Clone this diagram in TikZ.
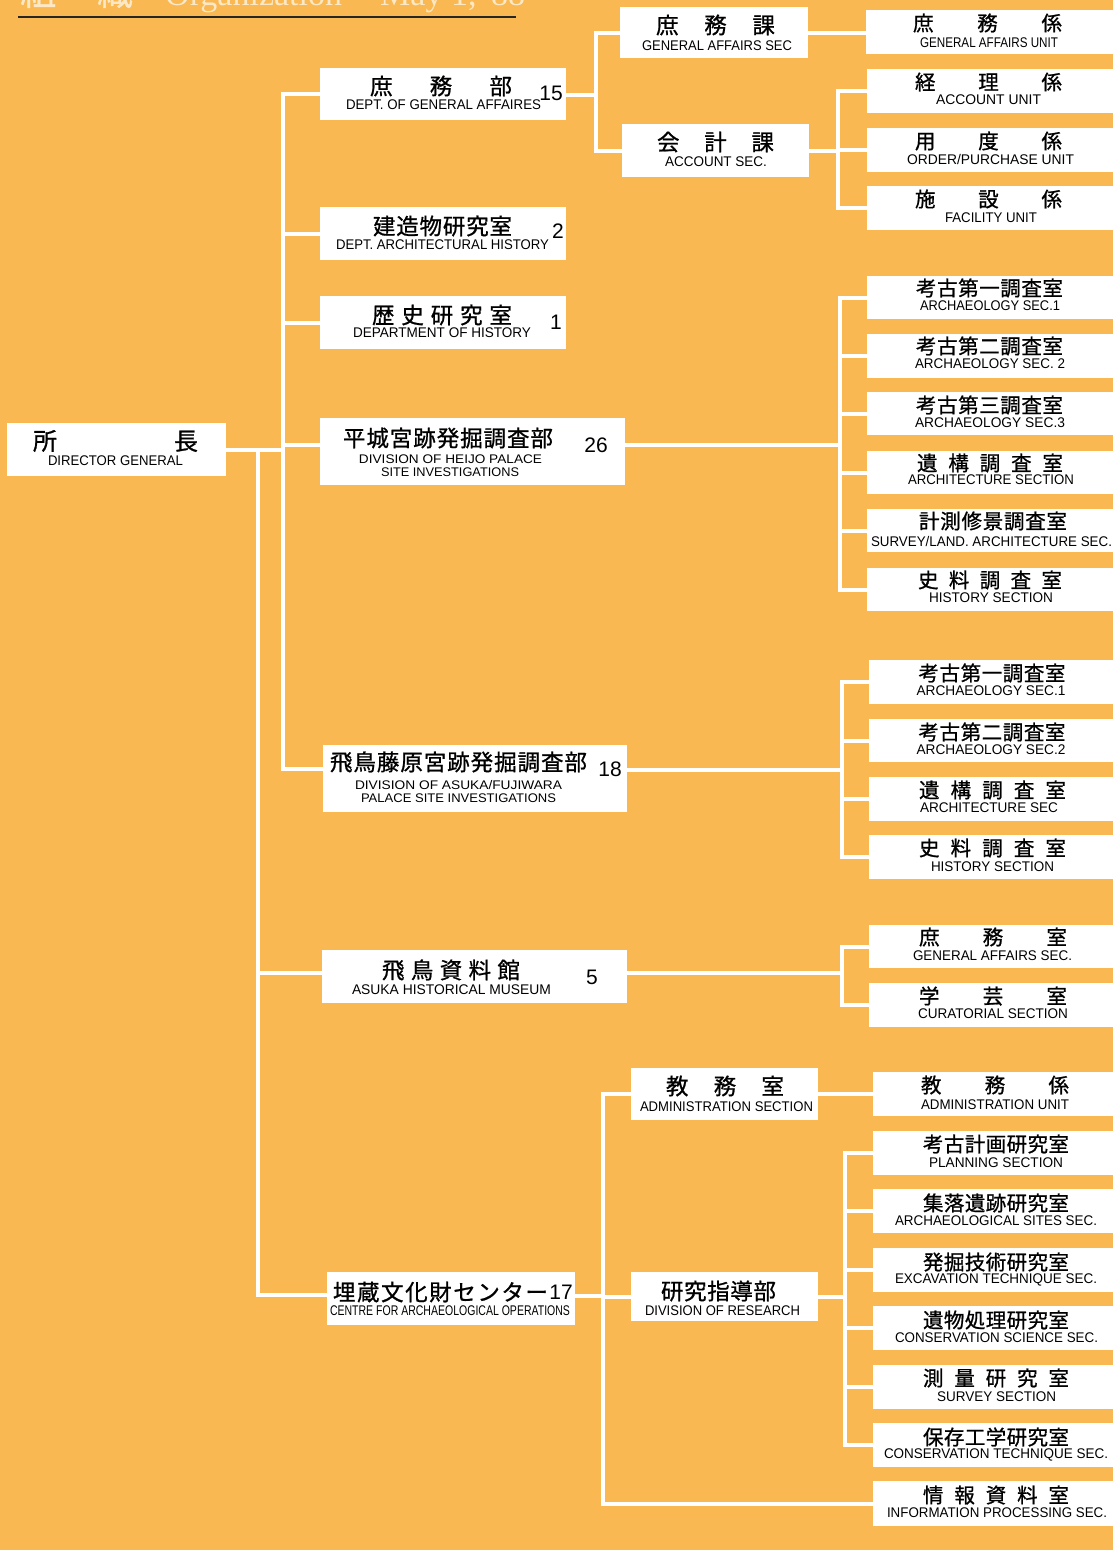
\documentclass[tikz,border=0pt]{standalone}
\usepackage{fontspec}
\usepackage{graphicx}
\setmainfont{Liberation Sans}
\newfontfamily\jpf[FakeBold=0.9]{Noto Sans CJK JP}
\newfontfamily\enf{Liberation Sans}
\newfontfamily\serf{Liberation Serif}
\definecolor{bgor}{RGB}{249,184,82}
\definecolor{ttlc}{RGB}{252,232,196}
\newcommand\bx[5]{\node[box,minimum width={#4-#2},minimum height={#5-#3}] (#1) at (#2,#3) {};}
\newcommand\jt[5]{\node[#2] (#1) at (#3) {\makebox[#4pt][s]{#5}};}
\newcommand\et[5]{\node[#2] (#1) at (#3) {\resizebox{#4pt}{\height}{#5}};}
\begin{document}
\begin{tikzpicture}[x=1pt,y=-1pt,
  box/.style={fill=white,draw=none,inner sep=0pt,outer sep=0pt,anchor=north west},
  conn/.style={draw=white,line width=4pt},
  jpS/.style={font=\jpf\fontsize{20.5}{21}\selectfont,inner sep=0pt},
  jpL/.style={font=\jpf\fontsize{22.5}{23}\selectfont,inner sep=0pt},
  jpD/.style={font=\jpf\fontsize{24}{24}\selectfont,inner sep=0pt},
  en/.style={font=\enf\fontsize{14}{14}\selectfont,inner sep=0pt},
  enS/.style={font=\enf\fontsize{12.5}{13}\selectfont,inner sep=0pt},
  num/.style={font=\enf\fontsize{21}{21}\selectfont,inner sep=0pt},
  ttl/.style={font=\serf\fontsize{34}{34}\selectfont,text=ttlc,inner sep=0pt,anchor=base west},
  ttlj/.style={font=\jpf\fontsize{36}{36}\selectfont,text=ttlc,inner sep=0pt,anchor=base west}]
\fill[bgor] (0,0) rectangle (1113,1550);
\useasboundingbox (0,0) rectangle (1113,1550);
% title (cut off at the top edge, as in the reference)
\node[ttlj] (ttlJ) at (20,5) {\makebox[113pt][s]{組\hfil 織}};
\node[ttl] (ttlE) at (165,5) {Organization};
\node[ttl] (ttlD) at (380,5) {May 1, '88};
\coordinate (ulA) at (18,17);
\coordinate (ulB) at (516,17);
\draw[line width=2pt,color=black!85] (ulA) -- (ulB);
% bus coordinates
\coordinate (busA) at (283,0);
\coordinate (busB) at (258,0);
\coordinate (busC) at (596,0);
\coordinate (busD) at (838,0);
\coordinate (busE) at (840,0);
\coordinate (busF) at (842,0);
\coordinate (busG) at (842,0);
\coordinate (busH) at (603,0);
\coordinate (busI) at (845,0);
% boxes
\bx{dir}{7}{423}{226}{476}
\bx{gad}{320}{68}{566}{120}
\bx{arch}{320}{207}{566}{260}
\bx{hist}{320}{296}{566}{349}
\bx{heijo}{320}{418}{625}{485}
\bx{af}{323}{745}{627}{812}
\bx{mus}{322}{950}{627}{1003}
\bx{mz}{327}{1272}{575}{1325}
\bx{gas}{620}{7}{808}{58}
\bx{acs}{622}{124}{809}{177}
\bx{gau}{866}{10}{1120}{54}
\bx{acu}{867}{69}{1120}{113}
\bx{opu}{867}{128}{1120}{172}
\bx{fau}{867}{186}{1120}{230}
\bx{hA}{867}{276}{1120}{319}
\bx{hB}{867}{334}{1120}{378}
\bx{hC}{867}{392}{1120}{435}
\bx{hD}{867}{451}{1120}{494}
\bx{hE}{867}{509}{1120}{552}
\bx{hF}{867}{568}{1120}{611}
\bx{aA}{869}{660}{1120}{704}
\bx{aB}{869}{719}{1120}{762}
\bx{aC}{869}{777}{1120}{821}
\bx{aD}{869}{835}{1120}{879}
\bx{mA}{869}{925}{1120}{968}
\bx{mB}{869}{983}{1120}{1027}
\bx{adm}{631}{1068}{818}{1120}
\bx{res}{631}{1272}{818}{1321}
\bx{admu}{873}{1072}{1120}{1116}
\bx{rA}{873}{1131}{1120}{1175}
\bx{rB}{873}{1189}{1120}{1233}
\bx{rC}{873}{1248}{1120}{1292}
\bx{rD}{873}{1306}{1120}{1350}
\bx{rE}{873}{1365}{1120}{1409}
\bx{rF}{873}{1423}{1120}{1467}
\bx{info}{873}{1481}{1120}{1526}
% connector anchors offset from box centres
\coordinate (heijoL) at ([yshift=6.5pt]heijo.west);
\coordinate (heijoR) at ([yshift=6.5pt]heijo.east);
\coordinate (afL) at ([yshift=9.5pt]af.west);
\coordinate (afR) at ([yshift=9pt]af.east);
\coordinate (musL) at ([yshift=3.5pt]mus.west);
\coordinate (musR) at ([yshift=3.5pt]mus.east);
\coordinate (mzL) at ([yshift=3.5pt]mz.west);
\coordinate (mzR) at ([yshift=2.5pt]mz.east);
\coordinate (gadR) at ([yshift=-1pt]gad.east);
% connectors
\foreach \c in {gad,arch,hist,heijoL,afL}
  \draw[conn] (dir.east) -- (dir.east -| busA) |- (\c);
\foreach \c in {musL,mzL}
  \draw[conn] (dir.east) -- (dir.east -| busB) |- (\c);
\foreach \c in {gas,acs}
  \draw[conn] (gadR) -- (gadR -| busC) |- (\c.west);
\draw[conn] (gas.east) -- (gas.east -| gau.west);
\foreach \c in {acu,opu,fau}
  \draw[conn] (acs.east) -- (acs.east -| busD) |- (\c.west);
\foreach \c in {hA,hB,hC,hD,hE,hF}
  \draw[conn] (heijoR) -- (heijoR -| busE) |- (\c.west);
\foreach \c in {aA,aB,aC,aD}
  \draw[conn] (afR) -- (afR -| busF) |- (\c.west);
\foreach \c in {mA,mB}
  \draw[conn] (musR) -- (musR -| busG) |- (\c.west);
\foreach \c in {adm,res,info}
  \draw[conn] (mzR) -- (mzR -| busH) |- (\c.west);
\draw[conn] (adm.east) -- (adm.east -| admu.west);
\foreach \c in {rA,rB,rC,rD,rE,rF}
  \draw[conn] (res.east) -- (res.east -| busI) |- (\c.west);
% texts: director and level 2
\jt{dirJ}{jpD}{115.5,441}{165}{所\hfil 長}
\et{dirE}{en}{115.5,461}{135}{DIRECTOR GENERAL}
\jt{gadJ}{jpL}{441,86}{142}{庶\hfil 務\hfil 部}
\et{gadE}{en}{443.5,105}{195}{DEPT. OF GENERAL AFFAIRES}
\node[num] (gadN) at (551,93) {15};
\jt{archJ}{jpL}{442.5,226}{139}{建\hfil 造\hfil 物\hfil 研\hfil 究\hfil 室}
\et{archE}{en}{442.5,245}{213}{DEPT. ARCHITECTURAL HISTORY}
\node[num] (archN) at (558,231) {2};
\jt{histJ}{jpL}{442,315}{140}{歴\hfil 史\hfil 研\hfil 究\hfil 室}
\et{histE}{en}{442,333}{178}{DEPARTMENT OF HISTORY}
\node[num] (histN) at (556,322) {1};
\jt{heijoJ}{jpL}{448,438}{210}{平\hfil 城\hfil 宮\hfil 跡\hfil 発\hfil 掘\hfil 調\hfil 査\hfil 部}
\et{heijoE}{enS}{450.5,459}{183}{DIVISION OF HEIJO PALACE}
\et{heijoF}{enS}{450,472}{138}{SITE INVESTIGATIONS}
\node[num] (heijoN) at (596,445) {26};
\jt{afJ}{jpL}{458.5,762}{257}{飛\hfil 鳥\hfil 藤\hfil 原\hfil 宮\hfil 跡\hfil 発\hfil 掘\hfil 調\hfil 査\hfil 部}
\et{afE}{enS}{458.5,785}{207}{DIVISION OF ASUKA/FUJIWARA}
\et{afF}{enS}{458.5,798}{195}{PALACE SITE INVESTIGATIONS}
\node[num] (afN) at (610,769) {18};
\jt{musJ}{jpL}{451,970}{138}{飛\hfil 鳥\hfil 資\hfil 料\hfil 館}
\et{musE}{en}{451.5,990}{199}{ASUKA HISTORICAL MUSEUM}
\node[num] (musN) at (592,977) {5};
\jt{mzJ}{jpL}{440.5,1292}{215}{埋\hfil 蔵\hfil 文\hfil 化\hfil 財\hfil セ\hfil ン\hfil タ\hfil ー}
\et{mzE}{en}{450,1311}{240}{CENTRE FOR ARCHAEOLOGICAL OPERATIONS}
\node[num] (mzN) at (561,1292) {17};
% level 3
\jt{gasJ}{jpL}{715.5,25}{119}{庶\hfil 務\hfil 課}
\et{gasE}{en}{717,46}{150}{GENERAL AFFAIRS SEC}
\jt{acsJ}{jpL}{715.5,142}{117}{会\hfil 計\hfil 課}
\et{acsE}{en}{716,162}{102}{ACCOUNT SEC.}
\jt{admJ}{jpL}{725,1086}{118}{教\hfil 務\hfil 室}
\et{admE}{en}{726.5,1107}{173}{ADMINISTRATION SECTION}
\jt{resJ}{jpL}{718.5,1291}{115}{研\hfil 究\hfil 指\hfil 導\hfil 部}
\et{resE}{en}{722.5,1311}{155}{DIVISION OF RESEARCH}
% right column
\jt{gauJ}{jpS}{987.5,23}{149}{庶\hfil 務\hfil 係}
\et{gauE}{en}{989,43}{138}{GENERAL AFFAIRS UNIT}
\jt{acuJ}{jpS}{988.5,82}{147}{経\hfil 理\hfil 係}
\et{acuE}{en}{988.5,100}{105}{ACCOUNT UNIT}
\jt{opuJ}{jpS}{988.5,141}{147}{用\hfil 度\hfil 係}
\et{opuE}{en}{990.5,159}{167}{ORDER/PURCHASE UNIT}
\jt{fauJ}{jpS}{988.5,199}{147}{施\hfil 設\hfil 係}
\et{fauE}{en}{991,218}{92}{FACILITY UNIT}
\jt{hAJ}{jpS}{989.5,288}{147}{考\hfil 古\hfil 第\hfil 一\hfil 調\hfil 査\hfil 室}
\et{hAE}{en}{990,306}{140}{ARCHAEOLOGY SEC.1}
\jt{hBJ}{jpS}{989.5,346}{147}{考\hfil 古\hfil 第\hfil 二\hfil 調\hfil 査\hfil 室}
\et{hBE}{en}{990,364}{150}{ARCHAEOLOGY SEC. 2}
\jt{hCJ}{jpS}{989.5,405}{147}{考\hfil 古\hfil 第\hfil 三\hfil 調\hfil 査\hfil 室}
\et{hCE}{en}{990,423}{150}{ARCHAEOLOGY SEC.3}
\jt{hDJ}{jpS}{990,463}{146}{遺\hfil 構\hfil 調\hfil 査\hfil 室}
\et{hDE}{en}{991,480}{166}{ARCHITECTURE SECTION}
\jt{hEJ}{jpS}{993,521}{148}{計\hfil 測\hfil 修\hfil 景\hfil 調\hfil 査\hfil 室}
\et{hEE}{en}{991.5,541}{241}{SURVEY/LAND. ARCHITECTURE SEC.}
\jt{hFJ}{jpS}{990,580}{144}{史\hfil 料\hfil 調\hfil 査\hfil 室}
\et{hFE}{en}{991,598}{124}{HISTORY SECTION}
\jt{aAJ}{jpS}{992,673}{147}{考\hfil 古\hfil 第\hfil 一\hfil 調\hfil 査\hfil 室}
\et{aAE}{en}{991,691}{149}{ARCHAEOLOGY SEC.1}
\jt{aBJ}{jpS}{992,732}{147}{考\hfil 古\hfil 第\hfil 二\hfil 調\hfil 査\hfil 室}
\et{aBE}{en}{991,750}{149}{ARCHAEOLOGY SEC.2}
\jt{aCJ}{jpS}{992.5,790}{147}{遺\hfil 構\hfil 調\hfil 査\hfil 室}
\et{aCE}{en}{989,808}{138}{ARCHITECTURE SEC}
\jt{aDJ}{jpS}{992.5,848}{147}{史\hfil 料\hfil 調\hfil 査\hfil 室}
\et{aDE}{en}{992.5,867}{123}{HISTORY SECTION}
\jt{mAJ}{jpS}{993,937}{148}{庶\hfil 務\hfil 室}
\et{mAE}{en}{992.5,956}{159}{GENERAL AFFAIRS SEC.}
\jt{mBJ}{jpS}{993,996}{148}{学\hfil 芸\hfil 室}
\et{mBE}{en}{993,1014}{150}{CURATORIAL SECTION}
\jt{admuJ}{jpS}{995,1085}{148}{教\hfil 務\hfil 係}
\et{admuE}{en}{995,1105}{148}{ADMINISTRATION UNIT}
\jt{rAJ}{jpS}{996,1144}{146}{考\hfil 古\hfil 計\hfil 画\hfil 研\hfil 究\hfil 室}
\et{rAE}{en}{996,1163}{134}{PLANNING SECTION}
\jt{rBJ}{jpS}{996,1203}{146}{集\hfil 落\hfil 遺\hfil 跡\hfil 研\hfil 究\hfil 室}
\et{rBE}{en}{996,1221}{202}{ARCHAEOLOGICAL SITES SEC.}
\jt{rCJ}{jpS}{996,1262}{146}{発\hfil 掘\hfil 技\hfil 術\hfil 研\hfil 究\hfil 室}
\et{rCE}{en}{996,1280}{202}{EXCAVATION TECHNIQUE SEC.}
\jt{rDJ}{jpS}{996,1320}{146}{遺\hfil 物\hfil 処\hfil 理\hfil 研\hfil 究\hfil 室}
\et{rDE}{en}{996.5,1338}{203}{CONSERVATION SCIENCE SEC.}
\jt{rEJ}{jpS}{996,1378}{146}{測\hfil 量\hfil 研\hfil 究\hfil 室}
\et{rEE}{en}{996.5,1397}{119}{SURVEY SECTION}
\jt{rFJ}{jpS}{996,1437}{146}{保\hfil 存\hfil 工\hfil 学\hfil 研\hfil 究\hfil 室}
\et{rFE}{en}{996,1455}{224}{CONSERVATION TECHNIQUE SEC.}
\jt{infoJ}{jpS}{996,1495}{146}{情\hfil 報\hfil 資\hfil 料\hfil 室}
\et{infoE}{en}{997,1513}{220}{INFORMATION PROCESSING SEC.}
\end{tikzpicture}
\end{document}
